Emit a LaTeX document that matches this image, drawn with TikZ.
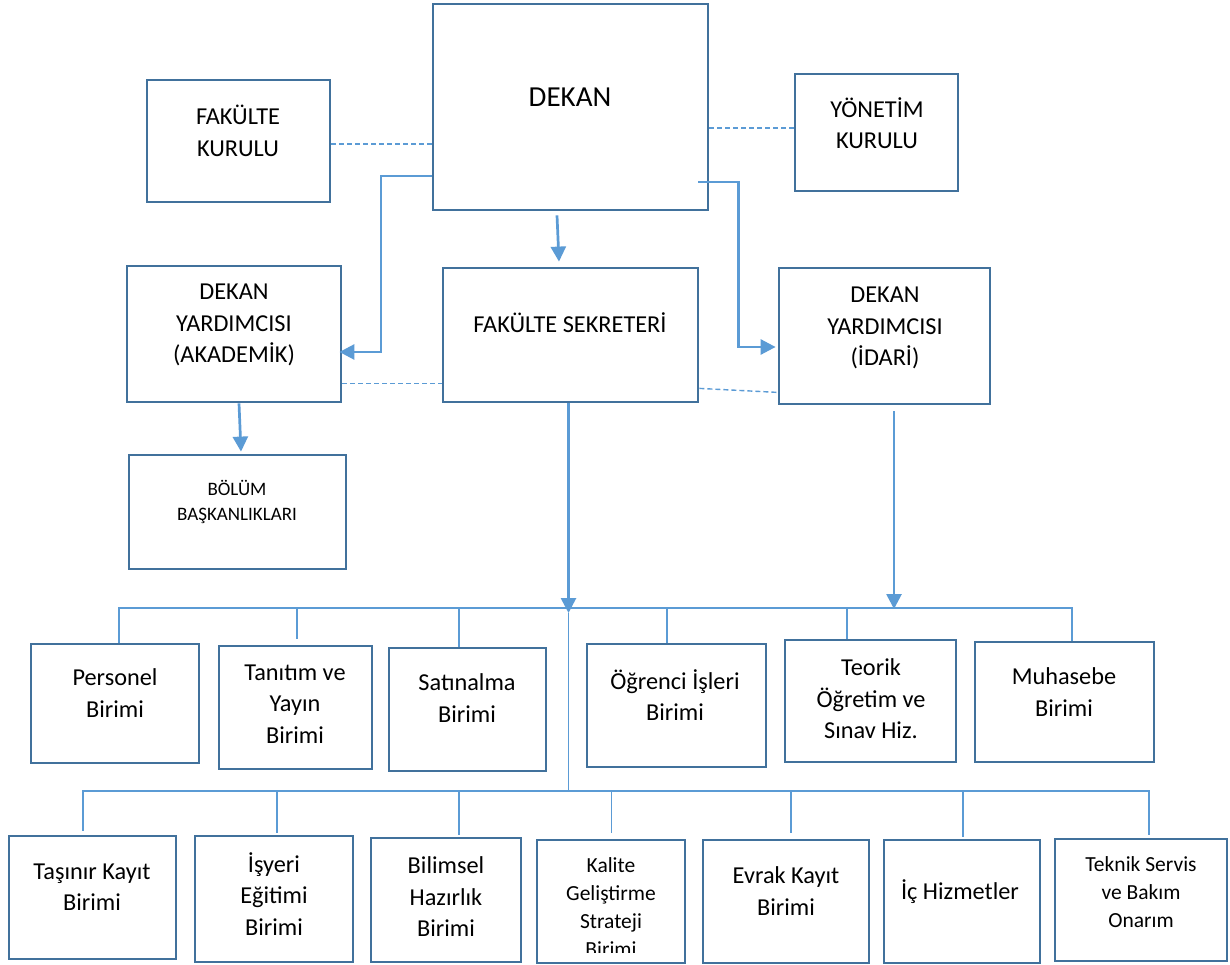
\documentclass[tikz,border=0pt]{standalone}
\usepackage{fontspec}
\setmainfont{Carlito}
\usetikzlibrary{arrows.meta}
\definecolor{boxc}{HTML}{41719C}
\definecolor{linec}{HTML}{5B9BD5}
\tikzset{
  orgbox/.style={draw=boxc, line width=2.8pt, inner sep=0pt, fill=white},
  lbl/.style={align=center, inner sep=0pt, font=\fontsize{24.3}{31.5}\selectfont},
  lblsmall/.style={align=center, inner sep=0pt, font=\fontsize{21.5}{28}\selectfont},
  lbltiny/.style={align=center, inner sep=0pt, font=\fontsize{19}{25}\selectfont},
  lblbig/.style={align=center, inner sep=0pt, font=\fontsize{29}{34}\selectfont},
  arr/.style={draw=linec, line width=2.7pt, -{Triangle[length=15pt,width=15pt]}},
  busline/.style={draw=linec, line width=1.3pt},
  dsh/.style={draw=linec, line width=1.4pt, dash pattern=on 5pt off 3pt},
}
\newcommand{\mkbox}[5]{\node[orgbox, minimum width={#4-#2}, minimum height={#5-#3}] (#1) at ({(#2+#4)/2},{(#3+#5)/2}) {};}
\begin{document}
\begin{tikzpicture}[x=1pt, y=-1pt]
\useasboundingbox[fill=white] (0,0) rectangle (1230,965);

% ---------- boxes ----------
\mkbox{dekan}{433}{4}{708}{210}
\mkbox{fk}{147}{80}{330}{202}
\mkbox{yk}{795}{74}{958}{191}
\mkbox{dya}{127}{266}{341}{402}
\mkbox{fs}{443}{268}{698}{402}
\mkbox{dyi}{779}{268}{990}{404}
\mkbox{bb}{129}{455}{346}{569}

\mkbox{per}{31}{644}{199}{763}
\mkbox{tan}{219}{646}{372}{769}
\mkbox{sat}{389}{648}{546}{771}
\mkbox{ogr}{587}{644}{766}{767}
\mkbox{teo}{785}{640}{956}{762}
\mkbox{muh}{975}{642}{1154}{762}

\mkbox{tas}{9}{836}{176}{959}
\mkbox{isy}{195}{836}{353}{962}
\mkbox{bil}{371}{838}{521}{962}
\mkbox{kal}{537}{840}{685}{963}
\mkbox{evr}{703}{840}{869}{963}
\mkbox{ich}{884}{840}{1040}{963}
\mkbox{tek}{1055}{839}{1227}{961}

% ---------- texts ----------
\node[lblbig] (dekan-t) at (570,97) {DEKAN};
\node[lbl] (fk-t) at (238,131) {FAKÜLTE\\KURULU};
\node[lbl] (yk-t) at (877,123) {YÖNETİM\\KURULU};
\node[lbl] (dya-t) at (234,325) {DEKAN\\YARDIMCISI\\(AKADEMİK)};
\node[lbl] (fs-t) at (570,323) {FAKÜLTE SEKRETERİ};
\node[lbl] (dyi-t) at (885,328) {DEKAN\\YARDIMCISI\\(İDARİ)};
\node[lbltiny] (bb-t) at (237,502) {BÖLÜM\\BAŞKANLIKLARI};

\node[lbl] (per-t) at (115,693) {Personel\\Birimi};
\node[lbl] (tan-t) at (295,704) {Tanıtım ve\\Yayın\\Birimi};
\node[lbl] (sat-t) at (467,698) {Satınalma\\Birimi};
\node[lbl] (ogr-t) at (675,695) {Öğrenci İşleri\\Birimi};
\node[lbl] (teo-t) at (871,699) {Teorik\\Öğretim ve\\Sınav Hiz.};
\node[lbl] (muh-t) at (1064,692) {Muhasebe\\Birimi};

\node[lbl] (tas-t) at (92,887) {Taşınır Kayıt\\Birimi};
\node[lbl] (isy-t) at (274,894) {İşyeri\\Eğitimi\\Birimi};
\node[lbl] (bil-t) at (446,897) {Bilimsel\\Hazırlık\\Birimi};
\begin{scope}
  \clip (537,840) rectangle (685,952);
  \node[lblsmall] (kal-t) at (611,907) {Kalite\\Geliştirme\\Strateji\\Birimi};
\end{scope}
\node[lbl] (evr-t) at (786,891) {Evrak Kayıt\\Birimi};
\node[lbl] (ich-t) at (960,892) {İç Hizmetler};
\node[lblsmall] (tek-t) at (1141,892) {Teknik Servis\\ve Bakım\\Onarım};

% ---------- dashed links ----------
\draw[dsh] ([yshift=-3pt]fk.east) -- ([yshift=-3pt]fk.east -| dekan.west);
\draw[dsh] ([yshift=4.5pt]yk.west) -- ([yshift=4.5pt]yk.west -| dekan.east);
\draw[dsh] ([yshift=20pt]dya.south east) -- ([yshift=20pt]dya.south east -| fs.west);
\draw[dsh] ([yshift=15pt]fs.south east) -- ([yshift=13pt]dyi.south west);

% ---------- arrows ----------
\draw[arr] ([yshift=-69pt]dekan.west) -- ++(-50.5,0) |- ([xshift=-3pt,yshift=-18pt]dya.east);
\draw[arr] ([xshift=-13.5pt,yshift=-4pt]dekan.south) -- ([xshift=-11.5pt,yshift=5pt]fs.north);
\draw[arr] ([xshift=-11pt,yshift=-75pt]dekan.east) -- ++(40,0) |- ([xshift=-2pt,yshift=-11pt]dyi.west);
\draw[arr] ([xshift=5pt]dya.south) -- ([xshift=3.5pt,yshift=2pt]bb.north);

% ---------- buses ----------
\coordinate (b1L) at (119,608);
\coordinate (b1R) at (1072,608);
\coordinate (b2L) at (83,791);
\coordinate (b2R) at (1149,791);
\coordinate (fsx) at (568.5,613);
\coordinate (dyix) at (894,609);
\draw[busline] (b1L) -- (b1R);
\draw[busline] (b2L) -- (b2R);
\draw[busline] (fsx) -- (fsx |- b2L);
\draw[arr] ([xshift=-2pt]fs.south) -- (fsx);
\draw[arr] ([xshift=9.5pt,yshift=-6pt]dyi.south) -- (dyix);

% row 1 drops
\draw[busline] ([xshift=4pt]per.north) -- ++(0,-36);
\draw[busline] ([xshift=1.5pt,yshift=6pt]tan.north) -- ++(0,-32);
\draw[busline] ([xshift=-8.5pt]sat.north) -- ++(0,-40);
\draw[busline] ([xshift=-9.5pt]ogr.north) -- ++(0,-36);
\draw[busline] ([xshift=-23.5pt]teo.north) -- ++(0,-32);
\draw[busline] ([xshift=7.5pt]muh.north) -- ++(0,-34);

% row 2 drops
\draw[busline] ([xshift=-9.5pt,yshift=4pt]tas.north) -- ++(0,-41);
\draw[busline] ([xshift=3pt,yshift=2pt]isy.north) -- ++(0,-43);
\draw[busline] ([xshift=13pt,yshift=2pt]bil.north) -- ++(0,-45);
\draw[busline] ([xshift=0.5pt,yshift=6pt]kal.north) -- ++(0,-43);
\draw[busline] ([xshift=5pt,yshift=6pt]evr.north) -- ++(0,-43);
\draw[busline] ([xshift=1pt,yshift=2pt]ich.north) -- ++(0,-47);
\draw[busline] ([xshift=8pt,yshift=3pt]tek.north) -- ++(0,-45);
\end{tikzpicture}
\end{document}
